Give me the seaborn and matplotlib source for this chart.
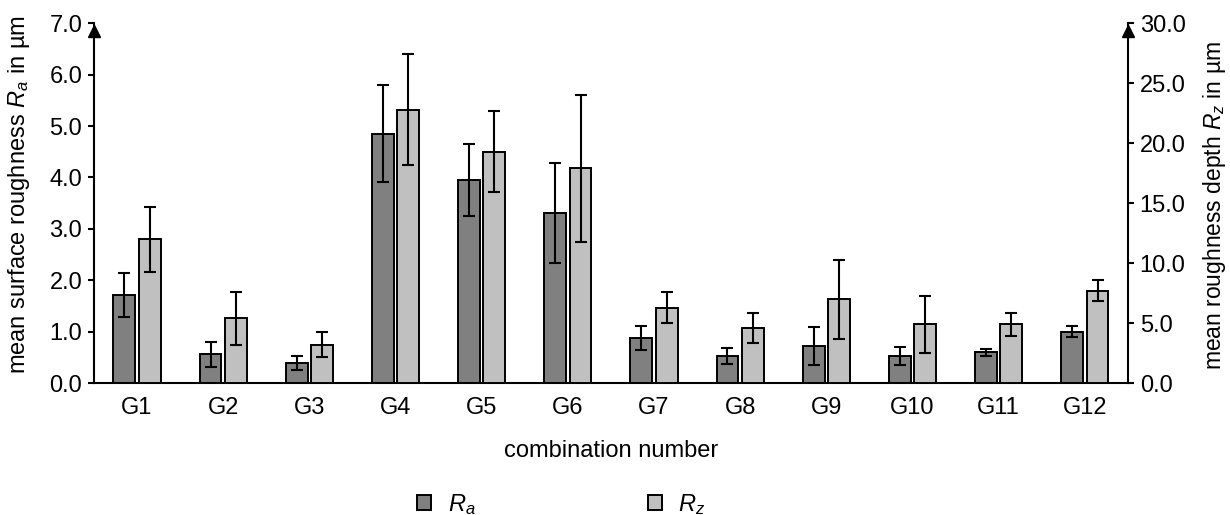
import numpy as np
import pandas as pd
import seaborn as sns
import matplotlib.pyplot as plt
import matplotlib.transforms as mtransforms
from matplotlib.patches import Patch
from matplotlib.ticker import FormatStrFormatter

groups = ['G1', 'G2', 'G3', 'G4', 'G5', 'G6', 'G7', 'G8', 'G9', 'G10', 'G11', 'G12']
ra_mean = [1.72, 0.56, 0.39, 4.85, 3.95, 3.31, 0.88, 0.53, 0.73, 0.53, 0.60, 1.00]
ra_sd = [0.43, 0.25, 0.13, 0.94, 0.70, 0.98, 0.24, 0.16, 0.37, 0.18, 0.07, 0.11]
rz_mean = [12.0, 5.4, 3.2, 22.8, 19.3, 17.9, 6.3, 4.6, 7.0, 4.9, 4.9, 7.7]
rz_sd = [2.7, 2.2, 1.06, 4.6, 3.35, 6.1, 1.28, 1.27, 3.3, 2.35, 0.96, 0.87]
params = ['R_a', 'R_z']
colors = {'R_a': '#808080', 'R_z': '#c0c0c0'}

sns.set_style('ticks')
plt.rcParams['font.family'] = ['Liberation Sans', 'DejaVu Sans']
plt.rcParams['mathtext.fontset'] = 'custom'
plt.rcParams['mathtext.rm'] = 'Liberation Sans'
plt.rcParams['mathtext.it'] = 'Liberation Sans:italic'
for k in ['text.color', 'axes.labelcolor', 'xtick.color', 'ytick.color']:
    plt.rcParams[k] = 'black'
fs = 17

df = pd.DataFrame({
    'group': groups * 2,
    'param': ['R_a'] * len(groups) + ['R_z'] * len(groups),
    'value': ra_mean + rz_mean,
    'sd': ra_sd + rz_sd,
})

fig, ax = plt.subplots(figsize=(12.3, 5.15), dpi=100)
fig.subplots_adjust(left=0.0764, right=0.917, bottom=0.256, top=0.955)
ax2 = ax.twinx()

# Ra on the left axis, Rz on the right one, both dodged in the same slots
for a, p in [(ax, 'R_a'), (ax2, 'R_z')]:
    sub = df[df['param'] == p]
    sns.barplot(data=sub, x='group', y='value', hue='param', hue_order=params,
                order=groups, palette=colors, width=0.59, gap=0.14, dodge=True,
                edgecolor='black', linewidth=1.4, legend=False, ax=a, zorder=2)
    bars = sorted([b for b in a.patches if np.isfinite(b.get_height()) and b.get_height() > 0],
                  key=lambda b: b.get_x())
    xs = [b.get_x() + b.get_width() / 2 for b in bars]
    a.errorbar(xs, sub['value'].values, yerr=sub['sd'].values, fmt='none',
               ecolor='black', elinewidth=1.5, capsize=4, capthick=1.5, zorder=3)

ax.set_xlim(-0.5, len(groups) - 0.5)
ax.set_ylim(0, 7)
ax2.set_ylim(0, 30)
ax.set_yticks(np.arange(0, 7.01, 1.0))
ax2.set_yticks(np.arange(0, 30.01, 5.0))
ax.yaxis.set_major_formatter(FormatStrFormatter('%.1f'))
ax2.yaxis.set_major_formatter(FormatStrFormatter('%.1f'))

for s in ['top', 'right']:
    ax.spines[s].set_visible(False)
for s in ['top', 'left', 'bottom']:
    ax2.spines[s].set_visible(False)
for a in (ax, ax2):
    for s in a.spines.values():
        s.set_linewidth(1.5)
        s.set_color('black')

ax.tick_params(axis='y', length=4.5, width=1.5, labelsize=fs, pad=4, color='black')
ax2.tick_params(axis='y', length=4.5, width=1.5, labelsize=fs, pad=4, color='black')
ax.tick_params(axis='x', length=0, labelsize=fs, pad=10)

ax.set_xlabel('combination number', fontsize=fs)
ax.xaxis.set_label_coords(0.5, -0.158)
ax.set_ylabel(r'mean surface roughness $R_a$ in µm', fontsize=fs)
ax.yaxis.set_label_coords(-0.06, 0.525)
ax2.set_ylabel(r'mean roughness depth $R_z$ in µm', fontsize=16.5)
ax2.yaxis.set_label_coords(1.071, 0.494)

# arrow heads on top of both value axes
for a, xpos in [(ax, 0), (ax2, 1)]:
    tr = mtransforms.offset_copy(a.transAxes, fig=fig, y=-8, units='dots')
    a.plot([xpos], [1], marker='^', markersize=9, color='black',
           transform=tr, clip_on=False, zorder=5)

handles = [Patch(facecolor=colors[p], edgecolor='black', linewidth=1.4) for p in params]
fig.legend(handles, [r'$R_a$', r'$R_z$'], loc='center left', bbox_to_anchor=(0.339, 0.02),
           ncol=2, frameon=False, fontsize=fs, handlelength=0.6, handleheight=0.6,
           handletextpad=0.7, columnspacing=7.3, borderaxespad=0, borderpad=0)

fig.savefig('out.png', dpi=100)
